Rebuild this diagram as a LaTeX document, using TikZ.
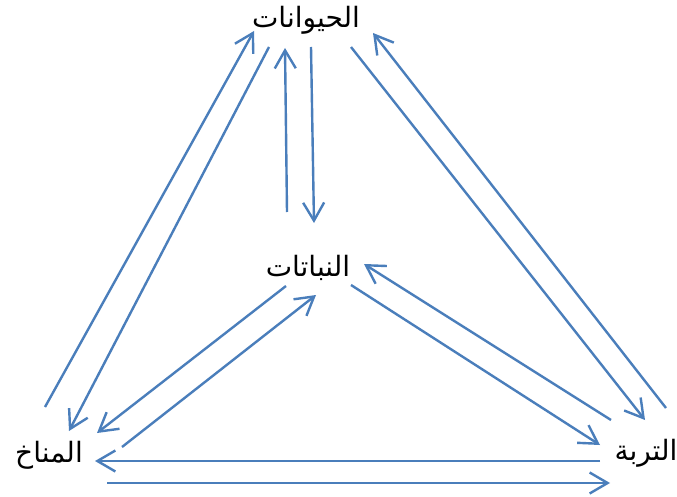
\documentclass[tikz,border=0pt]{standalone}
\usepackage{fontspec}
\usetikzlibrary{arrows.meta}
\TeXXeTstate=1
\newfontfamily\arabicfont[Script=Arabic]{DejaVu Sans}
\definecolor{arrowblue}{RGB}{74,126,187}
\tikzset{
  lbl/.style={inner sep=0pt,font=\arabicfont\fontsize{28}{32}\selectfont,text=black},
  conn/.style={draw=arrowblue,line width=2.4pt,-{Straight Barb[length=18pt,width=21pt,line width=2.4pt]}}
}
\begin{document}
\begin{tikzpicture}[x=1pt,y=-1pt]
\useasboundingbox (0,0) rectangle (677,497);
\fill[white] (0,0) rectangle (677,497);
\node[lbl] (animals) at (306,20) {\beginR الحيوانات\endR};
\node[lbl] (plants) at (308,268) {\beginR النباتات\endR};
\node[lbl] (climate) at (49,455) {\beginR المناخ\endR};
\node[lbl] (soil) at (646,453) {\beginR التربة\endR};
\coordinate (a1) at (45,407); \coordinate (a2) at (254,31);
\coordinate (b1) at (269,47); \coordinate (b2) at (69,431);
\coordinate (c1) at (287,212); \coordinate (c2) at (285,48);
\coordinate (d1) at (311,47); \coordinate (d2) at (314,223);
\coordinate (e1) at (666,408); \coordinate (e2) at (373,33);
\coordinate (f1) at (351,47); \coordinate (f2) at (645,420);
\coordinate (g1) at (611,420); \coordinate (g2) at (364,264);
\coordinate (h1) at (351,285); \coordinate (h2) at (600,445);
\coordinate (i1) at (286,286); \coordinate (i2) at (97,433);
\coordinate (j1) at (122,447); \coordinate (j2) at (316,295);
\coordinate (k1) at (600,461); \coordinate (k2) at (95,461);
\coordinate (l1) at (107,483); \coordinate (l2) at (610,483);
\foreach \s/\t in {a1/a2,b1/b2,c1/c2,d1/d2,e1/e2,f1/f2,g1/g2,h1/h2,i1/i2,j1/j2,k1/k2,l1/l2}
  \draw[conn] (\s) -- (\t);
\end{tikzpicture}
\end{document}
